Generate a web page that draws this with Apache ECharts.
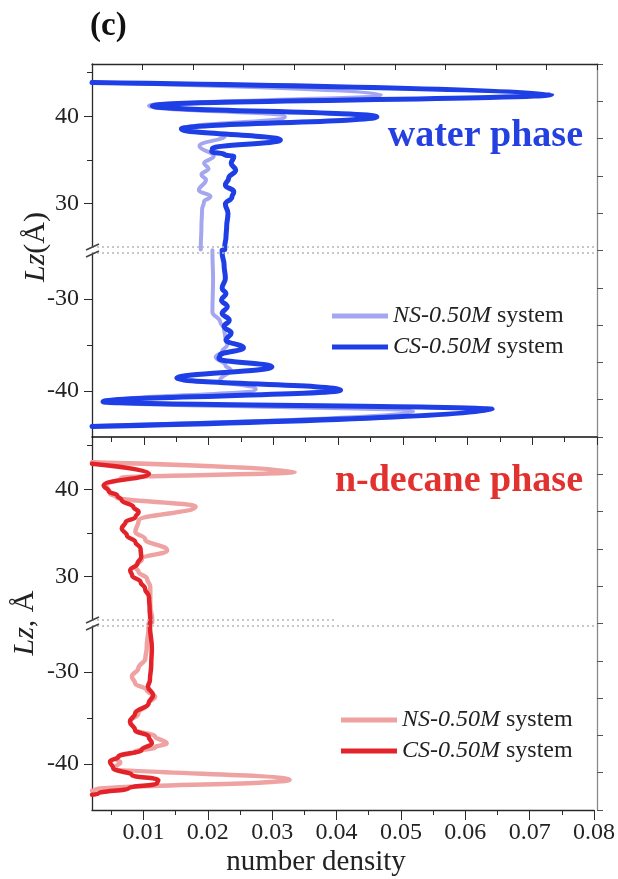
<!DOCTYPE html>
<html><head><meta charset="utf-8">
<script src="https://cdn.jsdelivr.net/npm/echarts@6/dist/echarts.min.js"></script>
<style>html,body{margin:0;padding:0;background:#fff}#c{width:618px;height:879px}</style>
</head><body><div id="c"></div>
<script>
// ---------- data (Lz in Å, number density) ----------
// water phase, upper segment (Lz 25..46)
const waterUpperLzCS  = [43.88, 42.52, 41.2, 39.95, 38.54, 37.28, 36.3, 35.95, 35.6, 35.37, 34.6, 33.83, 32.88, 32.1, 31.35, 30.7, 29.93, 28.86, 27.33, 26.2, 25.0, 24.7];
const waterUpperCS    = [0.002, 0.073, 0.0113, 0.046, 0.0158, 0.0311, 0.0206, 0.0205, 0.0225, 0.0239, 0.0235, 0.0242, 0.0231, 0.0226, 0.0239, 0.0236, 0.0226, 0.0230, 0.0228, 0.0227, 0.0225, 0.0225];
const waterUpperLzNS  = [43.88, 42.5, 41.2, 39.95, 38.55, 37.75, 36.6, 35.4, 34.6, 34.0, 33.3, 32.7, 31.5, 30.8, 30.2, 29.3, 27.3, 25.0, 24.7];
const waterUpperNS    = [0.002, 0.0466, 0.0108, 0.0318, 0.0158, 0.0225, 0.0186, 0.0208, 0.0193, 0.0200, 0.0189, 0.0196, 0.0185, 0.0203, 0.0193, 0.0190, 0.0189, 0.0188, 0.0188];
// water phase, lower segment (Lz -45..-25)
const waterLowerLzCS  = [-24.7, -25.0, -26.3, -27.75, -28.84, -29.4, -30.1, -30.83, -31.56, -32.3, -33.0, -33.7, -34.46, -35.3, -36.1, -36.5, -37.36, -38.6, -39.9, -41.16, -42.0, -43.86];
const waterLowerCS    = [0.0221, 0.0221, 0.0224, 0.0226, 0.0221, 0.0227, 0.0220, 0.0229, 0.0221, 0.0232, 0.0224, 0.0235, 0.0227, 0.0254, 0.0218, 0.0216, 0.0298, 0.0151, 0.0404, 0.0037, 0.0638, 0.002];
const waterLowerLzNS  = [-24.7, -25.0, -27.75, -31.4, -32.5, -33.2, -34.3, -35.0, -35.7, -36.3, -37.2, -37.7, -38.8, -39.8, -41.15, -42.25, -43.8];
const waterLowerNS    = [0.0206, 0.0206, 0.0207, 0.0206, 0.0218, 0.0224, 0.0226, 0.0229, 0.0221, 0.0211, 0.0226, 0.0234, 0.0218, 0.0273, 0.005, 0.0516, 0.002];
// n-decane phase, upper segment
const decUpperLzCS    = [42.94, 41.82, 40.45, 39.76, 39.3, 38.73, 37.97, 37.4, 36.8, 36.25, 35.5, 34.7, 33.95, 33.2, 32.23, 31.46, 30.7, 30.1, 29.36, 28.6, 27.64, 26.3, 25.0, 24.7];
const decUpperCS      = [0.002, 0.0108, 0.0038, 0.0046, 0.0059, 0.0066, 0.0084, 0.0092, 0.0087, 0.0072, 0.0066, 0.0074, 0.0087, 0.0095, 0.0096, 0.0090, 0.0079, 0.0082, 0.0095, 0.0102, 0.0108, 0.0109, 0.0110, 0.0110];
const decUpperLzNS    = [43.1, 42.0, 41.3, 40.5, 39.5, 39.1, 38.0, 36.4, 35.1, 34.3, 33.0, 32.0, 31.1, 30.5, 29.75, 28.8, 26.7, 25.0, 24.7];
const decUpperNS      = [0.002, 0.0333, 0.0065, 0.0042, 0.0048, 0.0058, 0.0180, 0.0092, 0.0087, 0.0102, 0.0136, 0.0097, 0.0087, 0.0092, 0.0105, 0.0110, 0.0110, 0.0113, 0.0113];
// n-decane phase, lower segment
const decLowerLzCS    = [-24.7, -25.0, -27.43, -29.24, -30.87, -31.6, -32.5, -33.4, -34.5, -35.4, -36.3, -37.03, -37.75, -38.48, -39.2, -39.75, -40.47, -41.2, -41.74, -42.1, -42.64, -43.2, -43.35];
const decLowerCS      = [0.0110, 0.0110, 0.0113, 0.0112, 0.0110, 0.0107, 0.0115, 0.0108, 0.0087, 0.0079, 0.0087, 0.0108, 0.0113, 0.0097, 0.0061, 0.0048, 0.0053, 0.0082, 0.0123, 0.0121, 0.0077, 0.0030, 0.002];
const decLowerLzNS    = [-24.7, -25.0, -27.43, -28.5, -29.6, -30.5, -31.23, -31.96, -32.7, -33.4, -34.5, -35.4, -36.3, -37.0, -37.75, -38.2, -38.66, -39.2, -39.57, -39.8, -40.4, -41.72, -42.8, -42.9];
const decLowerNS      = [0.0108, 0.0108, 0.0105, 0.0103, 0.0092, 0.0082, 0.0087, 0.0105, 0.0118, 0.0108, 0.0092, 0.0079, 0.0087, 0.0118, 0.0136, 0.0118, 0.0087, 0.0061, 0.0059, 0.0064, 0.0056, 0.0327, 0.0025, 0.002];

// ticks / labels
const xMajorTicks = [0.01, 0.02, 0.03, 0.04, 0.05, 0.06, 0.07, 0.08];
const xMinorTicks = [0.005, 0.015, 0.025, 0.035, 0.045, 0.055, 0.065, 0.075];
const yUpperMajor = [30, 40], yUpperMinor = [35, 45];
const yLowerMajor = [-40, -30], yLowerMinor = [-35];
const legendNames = {wNS: 'NS-0.50M', wCS: 'CS-0.50M', dNS: 'NS-0.50M', dCS: 'CS-0.50M'};

// ---------- styling ----------
const C = {wCS: '#1e3ee6', wNS: '#a4a7ef', dCS: '#e3232a', dNS: '#efa2a2'};
const FONT = 'Liberation Serif';
const AX = '#2a2a2a';
const pair = (lz, d) => lz.map((v, i) => [d[i], v]);

const XMIN = 0.002, XMAX = 0.08;
const gridL = 92, gridR = 21;
const grids = [
  {left: gridL, right: gridR, top: 64, height: 183},   // 0 water upper
  {left: gridL, right: gridR, top: 253, height: 184},  // 1 water lower
  {left: gridL, right: gridR, top: 437, height: 183},  // 2 decane upper
  {left: gridL, right: gridR, top: 626, height: 184},  // 3 decane lower
  {left: gridL, right: gridR, top: 64, height: 373},   // 4 overlay water
  {left: gridL, right: gridR, top: 437, height: 373}   // 5 overlay decane
];
const noSplit = {show: false};
function xData(gi, extra) {
  return Object.assign({type: 'value', gridIndex: gi, min: XMIN, max: XMAX, splitLine: noSplit,
    axisLine: {show: false, onZero: false}, axisTick: {show: false}, axisLabel: {show: false}}, extra || {});
}
const xAxes = [
  xData(0, {position: 'top', interval: (XMAX - XMIN) / 10,
    axisLine: {show: true, onZero: false, lineStyle: {color: AX, width: 1.3}},
    axisTick: {show: true, inside: true, length: 6, lineStyle: {color: AX}}}),
  xData(1, {position: 'bottom',
    axisLine: {show: true, onZero: false, lineStyle: {color: '#111', width: 1.5}},
    axisTick: {show: true, length: 8, customValues: xMajorTicks, lineStyle: {color: AX}}}),
  xData(1, {position: 'bottom',
    axisTick: {show: true, length: 5, customValues: xMinorTicks, lineStyle: {color: AX}}}),
  xData(2, {position: 'bottom'}),
  xData(3, {position: 'bottom',
    axisLine: {show: true, onZero: false, lineStyle: {color: AX, width: 1.3}},
    axisTick: {show: true, length: 10, customValues: xMajorTicks, lineStyle: {color: AX}},
    axisLabel: {show: true, customValues: xMajorTicks, margin: 11, fontFamily: FONT, fontSize: 24, color: '#222'}}),
  xData(3, {position: 'bottom',
    axisTick: {show: true, length: 5, customValues: xMinorTicks, lineStyle: {color: AX}}}),
  {type: 'value', gridIndex: 4, show: false, min: 0, max: 1},
  {type: 'value', gridIndex: 5, show: false, min: 0, max: 1}
];
function yAx(gi, min, max, major, minor) {
  return [
    {type: 'value', gridIndex: gi, position: 'left', min, max, splitLine: noSplit,
     axisLine: {show: true, onZero: false, lineStyle: {color: AX, width: 1.3}},
     axisTick: {show: true, length: 8, customValues: major, lineStyle: {color: AX}},
     axisLabel: {show: true, customValues: major, margin: 13, fontFamily: FONT, fontSize: 24, color: '#222'}},
    {type: 'value', gridIndex: gi, position: 'left', min, max, splitLine: noSplit,
     axisLine: {show: false, onZero: false},
     axisTick: {show: true, length: 5, customValues: minor, lineStyle: {color: AX}},
     axisLabel: {show: false}}
  ];
}
const rightAx = gi => ({type: 'value', gridIndex: gi, position: 'right', min: 0, max: 10, interval: 1,
  splitLine: noSplit, axisLine: {show: true, onZero: false, lineStyle: {color: '#8a8a8a', width: 1.3}},
  axisTick: {show: true, length: 6, lineStyle: {color: '#555'}}, axisLabel: {show: false}});
const yAxes = [].concat(
  yAx(0, 25, 46, yUpperMajor, yUpperMinor),
  yAx(1, -45, -25, yLowerMajor, yLowerMinor),
  yAx(2, 25, 46, yUpperMajor, yUpperMinor),
  yAx(3, -45, -25, yLowerMajor, yLowerMinor),
  [rightAx(4), rightAx(5)]
);

const dotted = {type: [2, 3], color: '#b5b5b5', width: 1.5};
function line(name, xi, yi, data, width, z, mark) {
  const s = {type: 'line', name, xAxisIndex: xi, yAxisIndex: yi, data, showSymbol: false, symbol: 'none',
    clip: false, smooth: 0.45, smoothMonotone: 'y', z,
    lineStyle: {color: C[name], width, join: 'round', cap: 'round'}, itemStyle: {color: C[name]}};
  if (mark) s.markLine = {silent: true, symbol: 'none', label: {show: false}, lineStyle: dotted, animation: false, data: mark};
  return s;
}
const series = [
  line('wNS', 0, 0, pair(waterUpperLzNS, waterUpperNS), 4, 2),
  line('wCS', 0, 0, pair(waterUpperLzCS, waterUpperCS), 5, 3, [{yAxis: 25}]),
  line('wNS', 1, 2, pair(waterLowerLzNS, waterLowerNS), 4, 2),
  line('wCS', 1, 2, pair(waterLowerLzCS, waterLowerCS), 5, 3, [{yAxis: -25}]),
  line('dNS', 3, 4, pair(decUpperLzNS, decUpperNS), 4.5, 2),
  line('dCS', 3, 4, pair(decUpperLzCS, decUpperCS), 4.5, 3, [[{coord: [XMIN, 25]}, {coord: [0.0395, 25]}]]),
  line('dNS', 4, 6, pair(decLowerLzNS, decLowerNS), 4.5, 2),
  line('dCS', 4, 6, pair(decLowerLzCS, decLowerCS), 4.5, 3, [{yAxis: -25}])
];

const legendText = {fontFamily: FONT, fontSize: 24, color: '#222',
  rich: {i: {fontFamily: FONT, fontSize: 24, fontStyle: 'italic', color: '#222'}}};
const legendBase = {orient: 'vertical', itemWidth: 56, itemHeight: 5, itemGap: 7, selectedMode: false,
  formatter: n => '{i|' + legendNames[n] + '} system', textStyle: legendText, padding: 0};
const legends = [
  Object.assign({}, legendBase, {left: 332, top: 304, data: [{name: 'wNS', icon: 'rect'}, {name: 'wCS', icon: 'rect'}]}),
  Object.assign({}, legendBase, {left: 341, top: 708, data: [{name: 'dNS', icon: 'rect'}, {name: 'dCS', icon: 'rect'}]})
];

const brk = (y) => [
  {type: 'line', shape: {x1: 86, y1: y + 3, x2: 99, y2: y - 3}, style: {stroke: '#444', lineWidth: 1.5}, z: 100},
  {type: 'line', shape: {x1: 86, y1: y + 10, x2: 99, y2: y + 4}, style: {stroke: '#444', lineWidth: 1.5}, z: 100}
];
const graphic = [].concat(
  brk(247), brk(620),
  [
    {type: 'text', left: 90, top: 10, style: {text: '(c)', fontFamily: FONT, fontWeight: 'bold', fontSize: 33, fill: '#111'}},
    {type: 'text', x: 583, y: 136, style: {text: 'water phase', fontFamily: FONT, fontWeight: 'bold', fontSize: 38, fill: '#2440e0', align: 'right', verticalAlign: 'middle'}, z: 50},
    {type: 'text', x: 583, y: 481, style: {text: 'n-decane phase', fontFamily: FONT, fontWeight: 'bold', fontSize: 38, fill: '#e2322f', align: 'right', verticalAlign: 'middle'}, z: 50},
    {type: 'text', x: 36, y: 247, rotation: Math.PI / 2, style: {text: '{i|Lz}(Å)', fontFamily: FONT, fontSize: 30, fill: '#222', align: 'center', verticalAlign: 'middle',
      rich: {i: {fontFamily: FONT, fontSize: 30, fontStyle: 'italic', fill: '#222'}}}},
    {type: 'text', x: 25, y: 623, rotation: Math.PI / 2, style: {text: '{i|Lz}, Å', fontFamily: FONT, fontSize: 30, fill: '#222', align: 'center', verticalAlign: 'middle',
      rich: {i: {fontFamily: FONT, fontSize: 30, fontStyle: 'italic', fill: '#222'}}}},
    {type: 'text', x: 316, y: 862, style: {text: 'number density', fontFamily: FONT, fontSize: 29, fill: '#222', align: 'center', verticalAlign: 'middle'}}
  ]
);

const chart = echarts.init(document.getElementById('c'), null, {renderer: 'canvas'});
chart.setOption({
  animation: false,
  backgroundColor: '#ffffff',
  textStyle: {fontFamily: FONT},
  grid: grids,
  xAxis: xAxes,
  yAxis: yAxes,
  legend: legends,
  series,
  graphic
});
</script></body></html>
